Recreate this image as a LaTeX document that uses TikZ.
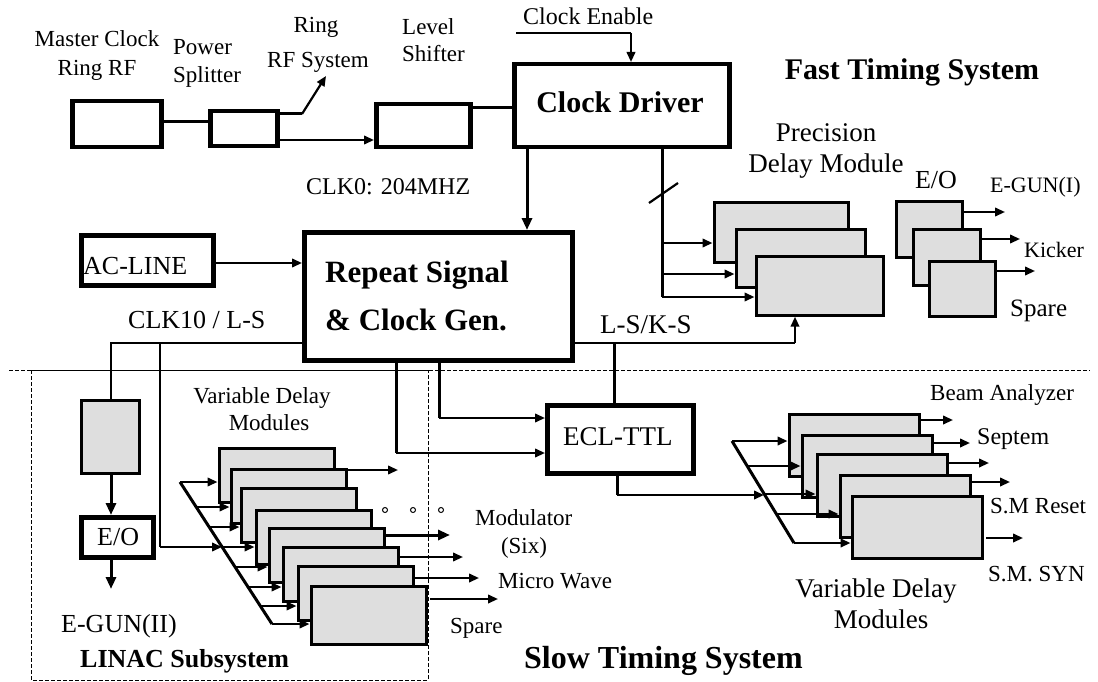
\documentclass[tikz,border=0pt]{standalone}
\usepackage{fontspec}
\setmainfont{Liberation Serif}
\usetikzlibrary{arrows.meta}
\definecolor{boxgray}{HTML}{DEDEDE}
\begin{document}
\begin{tikzpicture}[x=1pt,y=-1pt,
  tbox/.style={draw,line width=4.5pt,fill=white,inner sep=0pt,anchor=north west},
  gbox/.style={draw,line width=3.2pt,fill=boxgray,inner sep=0pt,anchor=north west},
  wire/.style={line width=3pt},
  thinw/.style={line width=2.2pt},
  arr/.style={-{Triangle[length=12pt,width=10pt]}},
  sarr/.style={-{Triangle[length=10pt,width=8.5pt]}},
  tx/.style={inner sep=0pt,font=\fontsize{#1}{#1}\selectfont},
  bx/.style={inner sep=0pt,font=\fontsize{#1}{#1}\selectfont\bfseries},
  dot/.style={circle,draw,line width=1pt,inner sep=0pt,minimum size=5pt},
  sep/.style={line width=1pt,dash pattern=on 4pt off 2pt}
]
\useasboundingbox (0,0) rectangle (1098,682);

% separators
\draw[sep] (9,370) -- (1090,370);
\draw[sep] (31,370) rectangle (428,680);

% ---------- boxes ----------
\node[tbox,minimum width=89pt,minimum height=46pt] (mc) at (70,99) {};
\node[tbox,minimum width=67pt,minimum height=35pt] (ps) at (208,109) {};
\node[tbox,minimum width=94pt,minimum height=43pt] (ls) at (374,102) {};
\node[tbox,minimum width=215pt,minimum height=83pt] (cd) at (512,62) {};
\node[tbox,minimum width=268pt,minimum height=128pt] (rs) at (302,230) {};
\node[tbox,minimum width=132pt,minimum height=50pt] (ac) at (79,233) {};
\node[tbox,minimum width=146pt,minimum height=68pt] (ecl) at (545,403) {};
\node[tbox,minimum width=72pt,minimum height=40pt] (eol) at (79,515) {};
\node[gbox,minimum width=58pt,minimum height=73pt] (gb) at (79.5,398.5) {};

% precision delay modules
\node[gbox,minimum width=134pt,minimum height=60pt] (p1) at (712.5,200.5) {};
\node[gbox,minimum width=129pt,minimum height=58pt] (p2) at (734.5,227.5) {};
\node[gbox,minimum width=127pt,minimum height=59pt] (p3) at (754.5,254.5) {};
% E/O modules
\node[gbox,minimum width=66pt,minimum height=56pt] (e1) at (894.5,199.5) {};
\node[gbox,minimum width=67pt,minimum height=56pt] (e2) at (911.5,227.5) {};
\node[gbox,minimum width=66pt,minimum height=55pt] (e3) at (927.5,259.5) {};

% left variable delay modules
\node[gbox,minimum width=115pt,minimum height=54pt] (v1) at (217.5,446.5) {};
\node[gbox,minimum width=115pt,minimum height=54pt] (v2) at (229.5,467.5) {};
\node[gbox,minimum width=115pt,minimum height=54pt] (v3) at (239.5,486.5) {};
\node[gbox,minimum width=115pt,minimum height=54pt] (v4) at (254.5,508.5) {};
\node[gbox,minimum width=115pt,minimum height=54pt] (v5) at (267.5,526.5) {};
\node[gbox,minimum width=115pt,minimum height=54pt] (v6) at (281.5,545.5) {};
\node[gbox,minimum width=115pt,minimum height=54pt] (v7) at (296.5,564.5) {};
\node[gbox,minimum width=115pt,minimum height=58pt] (v8) at (309.5,584.5) {};

% right variable delay modules
\node[gbox,minimum width=130pt,minimum height=62pt] (r1) at (787.5,412.5) {};
\node[gbox,minimum width=130pt,minimum height=62pt] (r2) at (800.5,433.5) {};
\node[gbox,minimum width=130pt,minimum height=62pt] (r3) at (815.5,452.5) {};
\node[gbox,minimum width=130pt,minimum height=62pt] (r4) at (838.5,473.5) {};
\node[gbox,minimum width=130pt,minimum height=62pt] (r5) at (850.5,494.5) {};

% ---------- coordinates ----------
\coordinate (ymc) at (0,122);
\coordinate (psu) at (302,114);
\coordinate (rfsys) at (326,76);
\coordinate (ypl) at (0,140);
\coordinate (ycd) at (0,108);
\coordinate (ce0) at (516,33);
\coordinate (ce1) at (631,33);
\coordinate (xck) at (527,0);
\coordinate (pb) at (662,297);
\coordinate (yp1) at (0,243);
\coordinate (yp2) at (0,274);
\coordinate (sl0) at (649,203);
\coordinate (sl1) at (678,183);
\coordinate (yac) at (0,263);
\coordinate (c10a) at (111,343);
\coordinate (c10b) at (160,343);
\coordinate (c10c) at (160,547);
\coordinate (egun2) at (111,589);
\coordinate (rb1) at (396,453);
\coordinate (rb2) at (439,418);
\coordinate (lsk) at (795,343);
\coordinate (lskj) at (614,343);
\coordinate (eo1) at (617,495);
\coordinate (eg1) at (1005,212);
\coordinate (kick) at (1020,239);
\coordinate (spr1) at (1035,271);
% right bus
\coordinate (rdt) at (732,441);
\coordinate (rd2) at (747,466);
\coordinate (rd3) at (764,494);
\coordinate (rd4) at (776,514);
\coordinate (rdb) at (794,543);
% left bus
\coordinate (ldt) at (180,482);
\coordinate (ld2) at (196,507);
\coordinate (ld3) at (209,527);
\coordinate (ld4) at (222,547);
\coordinate (ld5) at (235,567);
\coordinate (ld6) at (248,587);
\coordinate (ld7) at (260,606);
\coordinate (ldb) at (272,624);

% ---------- connectors: top ----------
\draw[wire] (mc.east |- ymc) -- (ps.west |- ymc);
\draw[wire] (ps.east |- psu) -- (psu);
\draw[thinw,sarr] (psu) -- (rfsys);
\draw[thinw,sarr] (ps.east |- ypl) -- (ls.west |- ypl);
\draw[wire] (ls.east |- ycd) -- (cd.west |- ycd);
\draw[thinw] (ce0) -- (ce1);
\draw[thinw,sarr] (ce1) -- (ce1 |- cd.north);
\draw[wire,arr] (cd.south -| xck) -- (rs.north -| xck);

% precision bus
\draw[wire] (cd.south -| pb) -- (pb);
\draw[thinw,sarr] (pb |- yp1) -- (p1.west |- yp1);
\draw[thinw,sarr] (pb |- yp2) -- (p2.west |- yp2);
\draw[thinw,sarr] (pb) -- (p3.west |- pb);
\draw[thinw] (sl0) -- (sl1);

% E/O outputs
\draw[thinw,sarr] (e1.east |- eg1) -- (eg1);
\draw[thinw,sarr] (e2.east |- kick) -- (kick);
\draw[thinw,sarr] (e3.east |- spr1) -- (spr1);

% AC line
\draw[thinw,sarr] (ac.east |- yac) -- (rs.west |- yac);

% CLK10 / L-S
\draw[thinw] (rs.west |- c10a) -- (c10a) -- (c10a |- gb.north);
\draw[thinw] (c10b) -- (c10c);
\draw[thinw,sarr] (c10c) -- (ld4);
\draw[wire,arr] (gb.south -| c10a) -- (eol.north -| c10a);
\draw[wire,arr] (eol.south -| c10a) -- (egun2);

% repeat -> ECL
\draw[wire] (rs.south -| rb1) -- (rb1);
\draw[thinw,sarr] (rb1) -- (ecl.west |- rb1);
\draw[wire] (rs.south -| rb2) -- (rb2);
\draw[thinw,sarr] (rb2) -- (ecl.west |- rb2);

% L-S/K-S
\draw[thinw] (rs.east |- lsk) -- (lsk);
\draw[thinw,sarr] (lsk) -- (lsk |- p3.south);
\draw[wire] (lskj) -- (ecl.north -| lskj);

% ECL -> right bus
\draw[wire] (ecl.south -| eo1) -- (eo1);
\draw[thinw,sarr] (eo1) -- (rd3 |- eo1);

% right bus
\draw[wire] (rdt) -- (rdb);
\draw[thinw,sarr] (rdt) -- (r1.west |- rdt);
\draw[thinw,sarr] (rd2) -- (r2.west |- rd2);
\draw[thinw,sarr] (rd3) -- (r3.west |- rd3);
\draw[thinw,sarr] (rd4) -- (r4.west |- rd4);
\draw[thinw,sarr] (rdb) -- (r5.west |- rdb);
% right outputs
\coordinate (ro1) at (953,420);
\coordinate (ro2) at (970,443);
\coordinate (ro3) at (989,463);
\coordinate (ro4) at (1010,482);
\coordinate (ro5s) at (986,538);
\coordinate (ro5) at (1023,538);
\draw[thinw,sarr] (r1.east |- ro1) -- (ro1);
\draw[thinw,sarr] (r2.east |- ro2) -- (ro2);
\draw[thinw,sarr] (r3.east |- ro3) -- (ro3);
\draw[thinw,sarr] (r4.east |- ro4) -- (ro4);
\draw[thinw,sarr] (ro5s) -- (ro5);

% left bus
\draw[wire] (ldt) -- (ldb);
\draw[thinw,sarr] (ldt) -- (v1.west |- ldt);
\draw[thinw,sarr] (ld2) -- (v2.west |- ld2);
\draw[thinw,sarr] (ld3) -- (v3.west |- ld3);
\draw[thinw,sarr] (ld4) -- (v4.west |- ld4);
\draw[thinw,sarr] (ld5) -- (v5.west |- ld5);
\draw[thinw,sarr] (ld6) -- (v6.west |- ld6);
\draw[thinw,sarr] (ld7) -- (v7.west |- ld7);
\draw[thinw,sarr] (ldb) -- (v8.west |- ldb);
% left outputs
\coordinate (lo1s) at (332,470);
\coordinate (lo1) at (398,470);
\coordinate (lo2) at (450,535);
\coordinate (lo3s) at (397,557);
\coordinate (lo3) at (463,557);
\coordinate (lo4s) at (412,578);
\coordinate (lo4) at (479,578);
\coordinate (lo5s) at (430,599);
\coordinate (lo5) at (498,599);
\draw[thinw,sarr] (lo1s) -- (lo1);
\draw[wire,arr] (v5.east |- lo2) -- (lo2);
\draw[thinw,sarr] (lo3s) -- (lo3);
\draw[thinw,sarr] (lo4s) -- (lo4);
\draw[thinw,sarr] (lo5s) -- (lo5);
\node[dot] (d1) at (385,510) {};
\node[dot] (d2) at (413,510) {};
\node[dot] (d3) at (441,510) {};

% ---------- labels ----------
\node[tx=23,anchor=base] (tmc1) at (97,47) {Master Clock};
\node[tx=23,anchor=base] (tmc2) at (97,76) {Ring RF};
\node[tx=23,anchor=base west] (tps1) at (173,55) {Power};
\node[tx=23,anchor=base west] (tps2) at (173,83) {Splitter};
\node[tx=23,anchor=base] (trf1) at (316,33) {Ring};
\node[tx=23,anchor=base west] (trf2) at (267,68) {RF System};
\node[tx=23,anchor=base west] (tls1) at (402,35) {Level};
\node[tx=23,anchor=base west] (tls2) at (402,62) {Shifter};
\node[tx=24,anchor=base west] (tce) at (523,25) {Clock Enable};
\node[bx=30,anchor=base] (tcd) at (620,113) {Clock Driver};
\node[bx=30,anchor=base] (tfast) at (912,80) {Fast Timing System};
\node[tx=24,anchor=base west] (tclk0) at (306,194) {CLK0: 204MHZ};
\node[tx=27,anchor=base] (tpd1) at (826,142) {Precision};
\node[tx=27,anchor=base] (tpd2) at (826,173) {Delay Module};
\node[tx=26,anchor=base] (teo) at (936,189) {E/O};
\node[tx=22,anchor=base west] (teg1) at (990,193) {E-GUN(I)};
\node[tx=22,anchor=base west] (tkick) at (1024,257) {Kicker};
\node[tx=25,anchor=base west] (tsp1) at (1010,316) {Spare};
\node[tx=26,anchor=base west] (tac) at (83,274) {AC-LINE};
\node[bx=31,anchor=base west] (trs1) at (325,282) {Repeat Signal};
\node[bx=31,anchor=base west] (trs2) at (325,330) {\& Clock Gen.};
\node[tx=26,anchor=base west] (tclk10) at (128,328) {CLK10 / L-S};
\node[tx=27,anchor=base west] (tlsks) at (600,333) {L-S/K-S};
\node[tx=27,anchor=base west] (tecl) at (563,445) {ECL-TTL};
\node[tx=26,anchor=base west] (teol) at (97,545) {E/O};
\node[tx=26,anchor=base west] (teg2) at (61,632) {E-GUN(II)};
\node[bx=26,anchor=base west] (tlinac) at (80,667) {LINAC Subsystem};
\node[tx=23,anchor=base] (tvd1) at (262,403) {Variable Delay};
\node[tx=23,anchor=base] (tvd2) at (269,430) {Modules};
\node[tx=23,anchor=base west] (tmod1) at (475,525) {Modulator};
\node[tx=23,anchor=base] (tmod2) at (524,553) {(Six)};
\node[tx=23,anchor=base west] (tmw) at (498,588) {Micro Wave};
\node[tx=23,anchor=base west] (tsp2) at (450,633) {Spare};
\node[tx=23,anchor=base west] (tba) at (930,400) {Beam Analyzer};
\node[tx=24,anchor=base west] (tsep) at (977,444) {Septem};
\node[tx=23,anchor=base west] (tsmr) at (990,513) {S.M Reset};
\node[tx=23,anchor=base west] (tsms) at (988,581) {S.M. SYN};
\node[tx=27,anchor=base] (tvr1) at (876,597) {Variable Delay};
\node[tx=27,anchor=base] (tvr2) at (881,628) {Modules};
\node[bx=32,anchor=base west] (tslow) at (524,668) {Slow Timing System};
\end{tikzpicture}
\end{document}
